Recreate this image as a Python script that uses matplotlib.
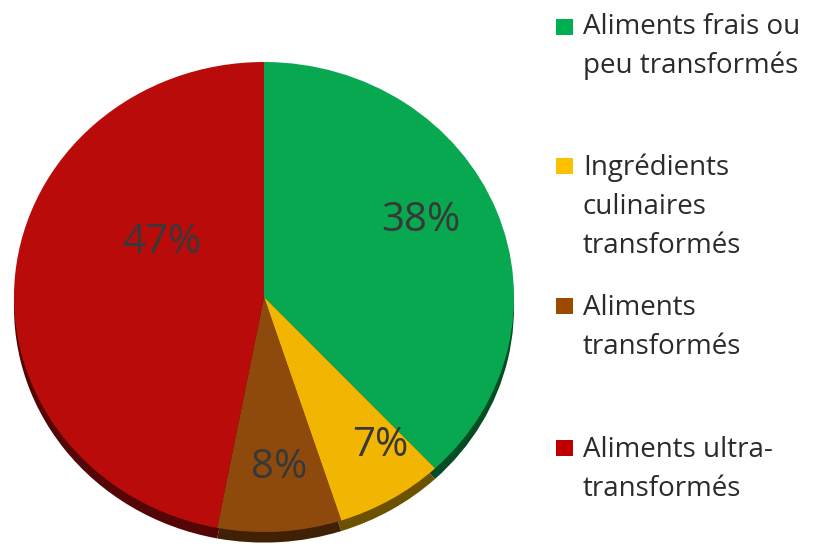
import matplotlib
matplotlib.use("Agg")
import matplotlib.pyplot as plt
from matplotlib.patches import Rectangle
import matplotlib.colors as mcolors

labels = ["Aliments frais ou\npeu transformés",
          "Ingrédients\nculinaires\ntransformés",
          "Aliments\ntransformés",
          "Aliments ultra-\ntransformés"]
values = [38, 7, 8, 47]
pct_labels = ["38%", "7%", "8%", "47%"]

pie_colors = ["#07A84F", "#F1B502", "#8E4A0C", "#BA0B0B"]
legend_colors = ["#00B050", "#FFC000", "#9C4A00", "#C00000"]

W, H = 814, 554
fig = plt.figure(figsize=(W / 100, H / 100), dpi=100)
plt.rcParams['font.family'] = ['Open Sans', 'DejaVu Sans']

def fx(x):
    return x / W

def fy(y):
    return 1 - y / H

# pie axes (elliptical face)
cx0, cy0, rx, ry = 264, 297, 250, 235
ax = fig.add_axes([fx(cx0 - rx), fy(cy0 + ry), 2 * rx / W, 2 * ry / H])

def darken(c, f=0.45):
    r, g, b = mcolors.to_rgb(c)
    return (r * f, g * f, b * f)

# shadow
sh, _ = ax.pie(values, colors=[darken(c) for c in pie_colors], startangle=90,
               counterclock=False, radius=1.0, center=(0, -0.045),
               wedgeprops=dict(linewidth=0))
for w in sh:
    w.set_clip_on(False)
wedges, _ = ax.pie(values, colors=pie_colors, startangle=90, counterclock=False,
                   radius=1.0, center=(0, 0), wedgeprops=dict(linewidth=0))
for w in wedges:
    w.set_clip_on(False)
ax.set_aspect('auto')
ax.set_xlim(-1, 1)
ax.set_ylim(-1, 1)
ax.axis('off')

# percentage labels (pixel centres)
label_pos = [(421, 221), (380, 446), (279, 468), (162, 243)]
for t, (x, y) in zip(pct_labels, label_pos):
    fig.text(fx(x), fy(y), t, ha='center', va='center', fontsize=29,
             color='#383838')

# legend
sq_centres = [27, 166, 306, 448]
first_baselines = [34, 175, 315, 457]
line_gap = 39
for lab, col, sc, bl in zip(labels, legend_colors, sq_centres, first_baselines):
    fig.patches.append(Rectangle((fx(556), fy(sc + 8)), 17 / W, 16 / H,
                                 transform=fig.transFigure, facecolor=col,
                                 edgecolor='none'))
    for i, line in enumerate(lab.split("\n")):
        fig.text(fx(583), fy(bl + i * line_gap), line, ha='left', va='baseline',
                 fontsize=20, color='#2b2b2b')

fig.savefig("out.png", dpi=100)
